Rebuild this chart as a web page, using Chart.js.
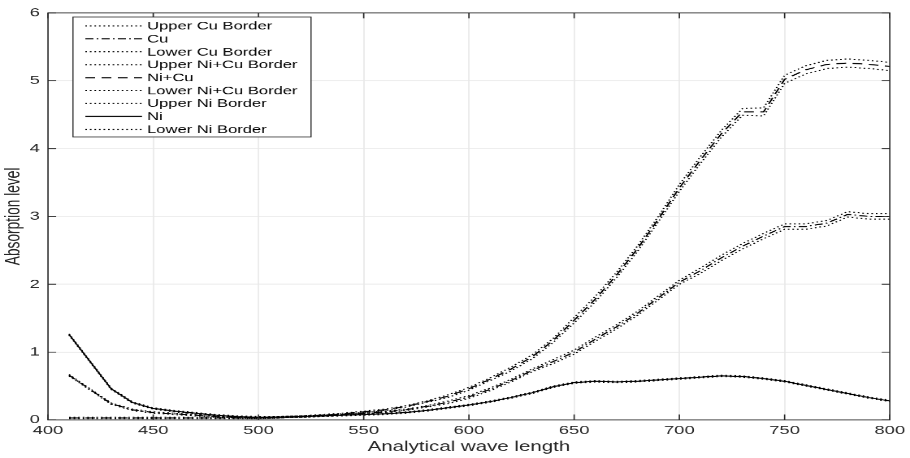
<!DOCTYPE html>
<html>
<head>
<meta charset="utf-8">
<style>
  html { overflow: hidden; }
  body { margin: 0; padding: 0; background: #fff; width: 910px; height: 458px; }
  /* the figure is laid out at 560x420 and stretched to fill the 910x458 window */
  #wrap { width: 560px; height: 420px; transform: scale(1.625, 1.0905); transform-origin: 0 0; }
  canvas { display: block; }
</style>
<script src="https://cdn.jsdelivr.net/npm/chart.js@4.4.1/dist/chart.umd.min.js"></script>
</head>
<body>
<div id="wrap"><canvas id="c" width="560" height="420" style="width:560px;height:420px"></canvas></div>
<script>
// Wavelengths (nm) of the measured spectra
const wavelengths = [410,430,440,450,460,470,480,490,500,510,520,530,540,550,560,570,580,590,600,610,620,630,640,650,660,670,680,690,700,710,720,730,740,750,760,770,780,790,800];

// Cu absorption with its tolerance borders
const cu      = [0.66,0.24,0.15,0.11,0.09,0.07,0.05,0.04,0.03,0.04,0.05,0.06,0.08,0.10,0.12,0.15,0.20,0.26,0.34,0.45,0.58,0.73,0.86,1.00,1.19,1.37,1.57,1.80,2.03,2.20,2.39,2.56,2.71,2.85,2.85,2.90,3.03,3.00,3.00];
const cuUpper = [0.67,0.25,0.16,0.12,0.10,0.08,0.06,0.05,0.04,0.05,0.06,0.07,0.09,0.11,0.13,0.16,0.21,0.28,0.36,0.47,0.60,0.75,0.89,1.03,1.22,1.40,1.60,1.83,2.06,2.24,2.43,2.60,2.75,2.89,2.89,2.94,3.07,3.04,3.04];
const cuLower = [0.65,0.23,0.14,0.10,0.08,0.06,0.04,0.03,0.02,0.03,0.04,0.05,0.07,0.09,0.11,0.14,0.19,0.24,0.32,0.43,0.56,0.71,0.83,0.97,1.16,1.34,1.54,1.77,2.00,2.16,2.35,2.52,2.67,2.81,2.81,2.86,2.99,2.96,2.96];

// Ni+Cu mixture absorption with its tolerance borders
const niCu      = [0.03,0.03,0.03,0.03,0.03,0.03,0.03,0.03,0.03,0.04,0.05,0.07,0.09,0.12,0.15,0.20,0.27,0.35,0.46,0.60,0.75,0.93,1.17,1.47,1.78,2.13,2.52,2.96,3.42,3.83,4.22,4.54,4.54,5.02,5.16,5.24,5.26,5.24,5.21];
const niCuUpper = [0.04,0.04,0.04,0.04,0.04,0.04,0.04,0.04,0.04,0.05,0.06,0.08,0.10,0.13,0.16,0.21,0.28,0.37,0.48,0.62,0.78,0.96,1.20,1.51,1.82,2.17,2.56,3.00,3.47,3.88,4.27,4.59,4.60,5.08,5.22,5.30,5.32,5.30,5.27];
const niCuLower = [0.02,0.02,0.02,0.02,0.02,0.02,0.02,0.02,0.02,0.03,0.04,0.06,0.08,0.11,0.14,0.19,0.26,0.33,0.44,0.58,0.72,0.90,1.14,1.43,1.74,2.09,2.48,2.92,3.37,3.78,4.17,4.49,4.48,4.96,5.10,5.18,5.20,5.18,5.15];

// Ni absorption with its tolerance borders
const ni      = [1.26,0.46,0.26,0.17,0.13,0.10,0.07,0.05,0.04,0.04,0.05,0.06,0.07,0.08,0.09,0.11,0.14,0.18,0.22,0.27,0.33,0.40,0.49,0.55,0.57,0.56,0.57,0.59,0.61,0.63,0.65,0.64,0.61,0.57,0.51,0.45,0.39,0.33,0.28];
const niUpper = [1.27,0.47,0.27,0.18,0.14,0.11,0.08,0.06,0.05,0.05,0.06,0.07,0.08,0.09,0.10,0.12,0.15,0.19,0.23,0.28,0.34,0.41,0.50,0.56,0.58,0.57,0.58,0.60,0.62,0.64,0.66,0.65,0.62,0.58,0.52,0.46,0.40,0.34,0.29];
const niLower = [1.25,0.45,0.25,0.16,0.12,0.09,0.06,0.04,0.03,0.03,0.04,0.05,0.06,0.07,0.08,0.10,0.13,0.17,0.21,0.26,0.32,0.39,0.48,0.54,0.56,0.55,0.56,0.58,0.60,0.62,0.64,0.63,0.60,0.56,0.50,0.44,0.38,0.32,0.27];

// Axis ranges and tick values
const xTicks = [400,450,500,550,600,650,700,750,800];
const yTicks = [0,1,2,3,4,5,6];

const FONT = '"Liberation Sans", Arial, Helvetica, sans-serif';
const INK = '#262626';
const DOTTED = [1, 1.8];
const DASHED = [6, 4];
const DASHDOT = [5, 2, 1, 2];

const pts = ys => wavelengths.map((x, i) => ({ x, y: ys[i] }));
const series = (label, ys, dash) => ({
  label, data: pts(ys), borderColor: '#000', borderWidth: 1, borderDash: dash,
  pointRadius: 0, tension: 0, fill: false
});

const datasets = [
  series('Upper Cu Border', cuUpper, DOTTED),
  series('Cu', cu, DASHDOT),
  series('Lower Cu Border', cuLower, DOTTED),
  series('Upper Ni+Cu Border', niCuUpper, DOTTED),
  series('Ni+Cu', niCu, DASHED),
  series('Lower Ni+Cu Border', niCuLower, DOTTED),
  series('Upper Ni Border', niUpper, DOTTED),
  series('Ni', ni, []),
  series('Lower Ni Border', niLower, DOTTED)
];

// Axes box with inward tick marks on all four sides
const boxAxes = {
  id: 'boxAxes',
  afterDatasetsDraw(chart) {
    const { ctx, chartArea: a, scales: { x, y } } = chart;
    const L = 5;
    ctx.save();
    ctx.strokeStyle = INK;
    ctx.lineWidth = 0.8;
    ctx.setLineDash([]);
    ctx.strokeRect(a.left, a.top, a.right - a.left, a.bottom - a.top);
    ctx.beginPath();
    xTicks.forEach(v => {
      const px = x.getPixelForValue(v);
      ctx.moveTo(px, a.bottom); ctx.lineTo(px, a.bottom - L);
      ctx.moveTo(px, a.top); ctx.lineTo(px, a.top + L);
    });
    yTicks.forEach(v => {
      const py = y.getPixelForValue(v);
      ctx.moveTo(a.left, py); ctx.lineTo(a.left + L, py);
      ctx.moveTo(a.right, py); ctx.lineTo(a.right - L, py);
    });
    ctx.stroke();
    ctx.restore();
  }
};

// Boxed legend in the upper-left corner of the axes
const boxLegend = {
  id: 'boxLegend',
  afterDraw(chart) {
    const ctx = chart.ctx;
    const x0 = 44.9, y0 = 15.6, w = 146.5, h = 110;
    ctx.save();
    ctx.fillStyle = '#fff';
    ctx.fillRect(x0, y0, w, h);
    ctx.strokeStyle = INK;
    ctx.lineWidth = 0.7;
    ctx.setLineDash([]);
    ctx.strokeRect(x0, y0, w, h);
    ctx.font = '10.2px ' + FONT;
    ctx.textBaseline = 'middle';
    ctx.textAlign = 'left';
    chart.data.datasets.forEach((ds, i) => {
      const yy = y0 + 8.2 + i * 11.85;
      ctx.strokeStyle = ds.borderColor;
      ctx.lineWidth = ds.borderWidth;
      ctx.setLineDash(ds.borderDash || []);
      ctx.beginPath();
      ctx.moveTo(52.5, yy);
      ctx.lineTo(87.4, yy);
      ctx.stroke();
      ctx.setLineDash([]);
      ctx.fillStyle = '#000';
      ctx.fillText(ds.label, 90.5, yy + 0.5);
    });
    ctx.restore();
  }
};

new Chart(document.getElementById('c'), {
  type: 'line',
  data: { datasets },
  plugins: [boxAxes, boxLegend],
  options: {
    responsive: false,
    animation: false,
    devicePixelRatio: 2,
    layout: { padding: { top: 7.3, right: 11.1, bottom: 0, left: 0 } },
    plugins: { legend: { display: false }, tooltip: { enabled: false } },
    scales: {
      x: {
        type: 'linear', min: 400, max: 800,
        afterBuildTicks: s => { s.ticks = xTicks.map(v => ({ value: v })); },
        afterFit: s => { s.height = 34.9; },
        ticks: { color: INK, font: { family: FONT, size: 11.3 }, padding: 3, maxRotation: 0, autoSkip: false },
        grid: { color: '#e8e8e8', lineWidth: 0.8, drawTicks: false },
        border: { display: false },
        title: { display: true, text: 'Analytical wave length', color: INK,
                 font: { family: FONT, size: 12.6 }, padding: { top: 0, bottom: 2.4 } }
      },
      y: {
        type: 'linear', min: 0, max: 6,
        afterBuildTicks: s => { s.ticks = yTicks.map(v => ({ value: v })); },
        afterFit: s => { s.width = 29.54; },
        ticks: { color: INK, font: { family: FONT, size: 11.3 }, padding: 5 },
        grid: { color: '#e8e8e8', lineWidth: 0.8, drawTicks: false },
        border: { display: false },
        title: { display: true, text: 'Absorption level', color: INK,
                 font: { family: FONT, size: 12.6 }, padding: { top: 1, bottom: 0 } }
      }
    }
  }
});
</script>
</body>
</html>
